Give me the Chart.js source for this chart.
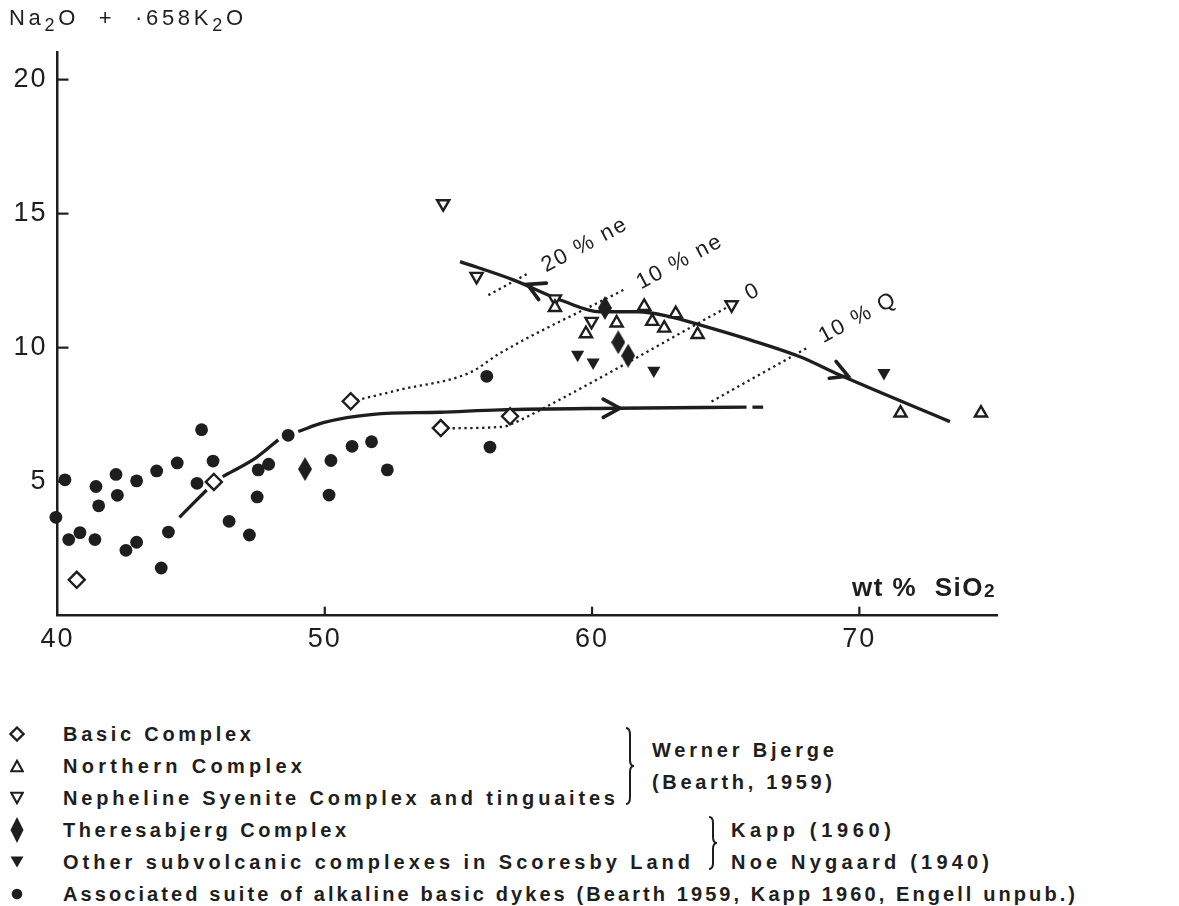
<!DOCTYPE html>
<html><head><meta charset="utf-8">
<script src="https://cdn.jsdelivr.net/npm/chart.js@4.4.1/dist/chart.umd.min.js"></script>
<style>
html,body{margin:0;padding:0;background:#fff;}
body{width:1179px;height:906px;position:relative;overflow:hidden;font-family:"Liberation Sans",Arial,sans-serif;color:#1e1e1e;}
#c{position:absolute;left:0;top:0;}
#ytitle{position:absolute;left:9px;top:5px;font-size:22px;line-height:26px;white-space:nowrap;}
#ytitle sub{font-size:18px;vertical-align:-6px;line-height:0;}
.row{position:absolute;font-size:20px;font-weight:bold;line-height:22px;white-space:nowrap;}
.sym{position:absolute;}
</style></head><body>
<canvas id="c" width="1179" height="700"></canvas>
<div id="ytitle" data-w="234">Na<sub>2</sub>O&nbsp;&nbsp;+&nbsp;&nbsp;·658K<sub>2</sub>O</div>

<svg class="sym" style="left:9px;top:726px" width="16" height="16"><polygon points="8,1.5 14.5,8 8,14.5 1.5,8" fill="#fff" stroke="#1e1e1e" stroke-width="2.3"/></svg>
<svg class="sym" style="left:10px;top:759px" width="14" height="14"><polygon points="7,1.8 12.8,12.2 1.2,12.2" fill="#fff" stroke="#1e1e1e" stroke-width="2.1"/></svg>
<svg class="sym" style="left:10px;top:791px" width="14" height="14"><polygon points="1.2,1.8 12.8,1.8 7,12.2" fill="#fff" stroke="#1e1e1e" stroke-width="2.1"/></svg>
<svg class="sym" style="left:10px;top:817px" width="14" height="26"><polygon points="7,0 13.5,13 7,26 0.5,13" fill="#1e1e1e"/></svg>
<svg class="sym" style="left:10px;top:856px" width="14" height="12"><polygon points="0.5,0.5 13.5,0.5 7,11.5" fill="#1e1e1e"/></svg>
<svg class="sym" style="left:11px;top:888px" width="12" height="12"><circle cx="6" cy="6" r="5.3" fill="#1e1e1e"/></svg>

<div class="row" style="left:63px;top:723px" data-w="188">Basic Complex</div>
<div class="row" style="left:63px;top:755px" data-w="239">Northern Complex</div>
<div class="row" style="left:63px;top:787px" data-w="552">Nepheline Syenite Complex and tinguaites</div>
<div class="row" style="left:63px;top:819px" data-w="283">Theresabjerg Complex</div>
<div class="row" style="left:63px;top:851px" data-w="627">Other subvolcanic complexes in Scoresby Land</div>
<div class="row" style="left:63px;top:883px" data-w="1012">Associated suite of alkaline basic dykes (Bearth 1959, Kapp 1960, Engell unpub.)</div>
<div class="row" style="left:652px;top:739px" data-w="182">Werner Bjerge</div>
<div class="row" style="left:652px;top:771px" data-w="180">(Bearth, 1959)</div>
<div class="row" style="left:731px;top:819px" data-w="160">Kapp (1960)</div>
<div class="row" style="left:731px;top:851px" data-w="258">Noe Nygaard (1940)</div>

<svg class="sym" style="left:624px;top:727px" width="12" height="78"><path d="M2,1 Q6,1 6,8 L6,33 Q6,39 10,39 Q6,39 6,45 L6,70 Q6,77 2,77" fill="none" stroke="#1e1e1e" stroke-width="2"/></svg>
<svg class="sym" style="left:707px;top:816px" width="12" height="54"><path d="M2,1 Q6,1 6,7 L6,21 Q6,27 10,27 Q6,27 6,33 L6,47 Q6,53 2,53" fill="none" stroke="#1e1e1e" stroke-width="2"/></svg>

<script>
// ---------------- data ----------------
const xTicks = [40, 50, 60, 70];
const yTicks = [5, 10, 15, 20];

const basicSiO2 = [40.72, 45.85, 50.97, 54.34, 56.93];
const basicAlk  = [1.34, 4.99, 8.00, 7.00, 7.44];

const northSiO2 = [58.61, 61.95, 60.92, 59.77, 62.25, 62.70, 63.13, 63.95, 71.54, 74.55];
const northAlk  = [11.50, 11.54, 10.92, 10.52, 10.98, 10.73, 11.27, 10.49, 7.56, 7.56];

const nephSiO2 = [54.43, 55.68, 58.61, 59.98, 65.22];
const nephAlk  = [15.37, 12.66, 11.82, 10.98, 11.60];

const theresSiO2 = [49.26, 60.48, 60.98, 61.35];
const theresAlk  = [5.47, 11.48, 10.20, 9.70];

const otherSiO2 = [59.46, 60.04, 62.31, 70.92];
const otherAlk  = [9.74, 9.45, 9.15, 9.06];

const dykeSiO2 = [39.94,40.28,40.42,40.84,41.40,41.44,41.54,42.19,42.24,42.56,42.96,42.96,43.71,43.88,44.15,44.48,45.22,45.39,45.82,46.42,47.18,47.47,47.51,47.90,48.63,50.16,50.23,51.02,51.75,52.34,56.06,56.18];
const dykeAlk  = [3.67,5.07,2.84,3.10,2.84,4.82,4.10,5.27,4.49,2.44,5.03,2.74,5.40,1.78,3.12,5.70,4.94,6.94,5.77,3.52,3.01,4.43,5.44,5.65,6.73,4.50,5.79,6.32,6.49,5.44,8.93,6.29];

// trend lines (solid)
const lowTrend1X = [44.56, 45.58];            const lowTrend1Y = [3.67, 4.69];
const lowTrend2X = [46.18, 47.45, 48.26];     const lowTrend2Y = [5.19, 5.91, 6.56];
const lowTrend3X = [49.01, 49.94, 51.81, 54.31, 56.55, 60.92, 65.78];
const lowTrend3Y = [6.87, 7.20, 7.51, 7.59, 7.68, 7.74, 7.78];
const lowDashX = [66.0, 66.4];                const lowDashY = [7.78, 7.78];
const upTrendX = [55.06, 57.05, 58.97, 60.29, 61.71, 62.90, 64.03, 65.91, 67.78, 69.27, 73.39];
const upTrendY = [13.21, 12.53, 11.72, 11.34, 11.34, 11.16, 10.85, 10.29, 9.66, 8.98, 7.24];

// dotted normative lines
const ne20X = [56.12, 57.61];                 const ne20Y = [11.96, 12.77];
const ne10X = [50.97, 52.81, 55.43, 56.55, 61.17]; const ne10Y = [7.99, 8.43, 9.07, 9.79, 12.15];
const ne0X  = [54.34, 56.68, 57.10, 58.30, 65.22];  const ne0Y  = [6.99, 7.05, 7.20, 7.80, 11.60];
const q10X  = [64.47, 68.03];                 const q10Y  = [7.99, 9.98];

// arrows on the trends (tip, and a point behind it on the trend)
const arrowTipX  = [57.58, 61.04, 69.58];
const arrowTipY  = [12.36, 7.74, 8.94];
const arrowFromX = [58.97, 56.55, 67.78];
const arrowFromY = [11.72, 7.72, 9.66];

// line labels
const lineLabels = ['20 % ne', '10 % ne', '0', '10 % Q'];
const lineLabelX = [59.73, 63.29, 66.02, 69.95];
const lineLabelY = [13.83, 13.20, 12.08, 11.11];
// -------------------------------------------------------------

const ink = '#1e1e1e';
const FONT = '"Liberation Sans", Arial, sans-serif';
const pts = (xs, ys) => xs.map((v, i) => ({x: v, y: ys[i]}));

function tallDiamond(w, h) {
  const c = document.createElement('canvas');
  c.width = w; c.height = h;
  const g = c.getContext('2d');
  g.beginPath(); g.moveTo(w/2, 0); g.lineTo(w, h/2); g.lineTo(w/2, h); g.lineTo(0, h/2); g.closePath();
  g.fillStyle = ink; g.fill();
  return c;
}

const marker = (data, style, r, fill, extra) => Object.assign({
  data, pointStyle: style, pointRadius: r, pointBackgroundColor: fill,
  pointBorderColor: ink, pointBorderWidth: 2.4, showLine: false, order: 0, clip: false
}, extra || {});
const solid = (data) => ({data, showLine: true, borderColor: ink, borderWidth: 3.3, pointRadius: 0,
  cubicInterpolationMode: 'monotone', order: 1, clip: false, borderCapStyle: 'butt'});
const dotted = (data) => ({data, showLine: true, borderColor: ink, borderWidth: 2.3, borderDash: [2.3, 3.6],
  pointRadius: 0, cubicInterpolationMode: 'monotone', order: 2, clip: false});

const overlay = {
  id: 'overlay',
  beforeDraw(chart) { chart.ctx.letterSpacing = '2px'; },
  beforeDatasetsDraw(chart) { chart.ctx.letterSpacing = '0px'; },
  afterDraw(chart) {
    const {ctx, scales: {x, y}, chartArea: a} = chart;
    ctx.save();
    ctx.strokeStyle = ink; ctx.fillStyle = ink;
    // inward tick marks
    ctx.lineWidth = 2.2;
    xTicks.filter(v => v > x.min).forEach(v => {
      const px = x.getPixelForValue(v);
      ctx.beginPath(); ctx.moveTo(px, a.bottom); ctx.lineTo(px, a.bottom - 9); ctx.stroke();
    });
    yTicks.forEach(v => {
      const py = y.getPixelForValue(v);
      ctx.beginPath(); ctx.moveTo(a.left, py); ctx.lineTo(a.left + 11, py); ctx.stroke();
    });
    // arrowheads
    ctx.lineWidth = 3.6; ctx.lineCap = 'round'; ctx.lineJoin = 'miter';
    arrowTipX.forEach((tv, i) => {
      const tx = x.getPixelForValue(tv), ty = y.getPixelForValue(arrowTipY[i]);
      const fx = x.getPixelForValue(arrowFromX[i]), fy = y.getPixelForValue(arrowFromY[i]);
      const ang = Math.atan2(ty - fy, tx - fx), L = 19, h = 0.5;
      ctx.beginPath();
      ctx.moveTo(tx - L*Math.cos(ang - h), ty - L*Math.sin(ang - h));
      ctx.lineTo(tx, ty);
      ctx.lineTo(tx - L*Math.cos(ang + h), ty - L*Math.sin(ang + h));
      ctx.stroke();
    });
    // rotated line labels
    ctx.font = '22px ' + FONT;
    ctx.letterSpacing = '2px';
    ctx.textAlign = 'center'; ctx.textBaseline = 'middle';
    lineLabels.forEach((t, i) => {
      ctx.save();
      ctx.translate(x.getPixelForValue(lineLabelX[i]), y.getPixelForValue(lineLabelY[i]));
      ctx.rotate(-28 * Math.PI / 180);
      ctx.fillText(t, 0, 0);
      ctx.restore();
    });
    // x-axis title inside the plot
    ctx.letterSpacing = '1.5px';
    ctx.textAlign = 'left'; ctx.textBaseline = 'alphabetic';
    const base = a.bottom - 20;
    ctx.font = 'bold 19px ' + FONT;
    const w2 = ctx.measureText('2').width;
    ctx.font = 'bold 26px ' + FONT;
    const main = 'wt %  SiO';
    const wm = ctx.measureText(main).width;
    const right = a.right - 1;
    ctx.fillText(main, right - w2 - wm, base);
    ctx.font = 'bold 19px ' + FONT;
    ctx.fillText('2', right - w2, base + 1);
    ctx.restore();
  }
};

new Chart(document.getElementById('c'), {
  type: 'scatter',
  data: {
    datasets: [
      marker(pts(dykeSiO2, dykeAlk), 'circle', 6.4, ink, {pointBorderWidth: 0}),
      marker(pts(basicSiO2, basicAlk), 'rectRot', 8, '#fff'),
      marker(pts(northSiO2, northAlk), 'triangle', 7, '#fff', {pointBorderWidth: 2.4}),
      marker(pts(nephSiO2, nephAlk), 'triangle', 7, '#fff', {pointBorderWidth: 2.4, pointRotation: 180}),
      marker(pts(theresSiO2, theresAlk), tallDiamond(14, 24), ink),
      marker(pts(otherSiO2, otherAlk), 'triangle', 7.6, ink, {pointBorderWidth: 0, pointRotation: 180}),
      solid(pts(lowTrend1X, lowTrend1Y)),
      solid(pts(lowTrend2X, lowTrend2Y)),
      solid(pts(lowTrend3X, lowTrend3Y)),
      solid(pts(lowDashX, lowDashY)),
      solid(pts(upTrendX, upTrendY)),
      dotted(pts(ne20X, ne20Y)),
      dotted(pts(ne10X, ne10Y)),
      dotted(pts(ne0X, ne0Y)),
      dotted(pts(q10X, q10Y))
    ]
  },
  options: {
    responsive: false, animation: false, events: [], devicePixelRatio: 1,
    layout: {padding: {left: 0, top: 52, right: 182, bottom: 0}},
    plugins: {legend: {display: false}, tooltip: {enabled: false}},
    scales: {
      x: {
        type: 'linear', min: 40, max: 75.15,
        afterBuildTicks: s => { s.ticks = xTicks.map(v => ({value: v})); },
        afterFit: s => { s.height = 84.3; },
        ticks: {font: {family: FONT, size: 27}, color: ink, padding: 8, maxRotation: 0, autoSkip: false},
        grid: {display: false, drawTicks: false},
        border: {display: true, color: ink, width: 2.5}
      },
      y: {
        type: 'linear', min: 0, max: 21.03,
        afterBuildTicks: s => { s.ticks = yTicks.map(v => ({value: v})); },
        afterFit: s => { s.width = 57.5; },
        ticks: {font: {family: FONT, size: 27}, color: ink, padding: 10},
        grid: {display: false, drawTicks: false},
        border: {display: true, color: ink, width: 2.5}
      }
    }
  },
  plugins: [overlay]
});

// spread HTML texts to the widths they take in the figure
function fit(el) {
  const target = parseFloat(el.dataset.w);
  el.style.letterSpacing = '0px';
  const w = el.getBoundingClientRect().width;
  const n = el.textContent.length;
  el.style.letterSpacing = ((target - w) / Math.max(1, n - 1)) + 'px';
}
document.querySelectorAll('[data-w]').forEach(fit);
</script>
</body></html>
